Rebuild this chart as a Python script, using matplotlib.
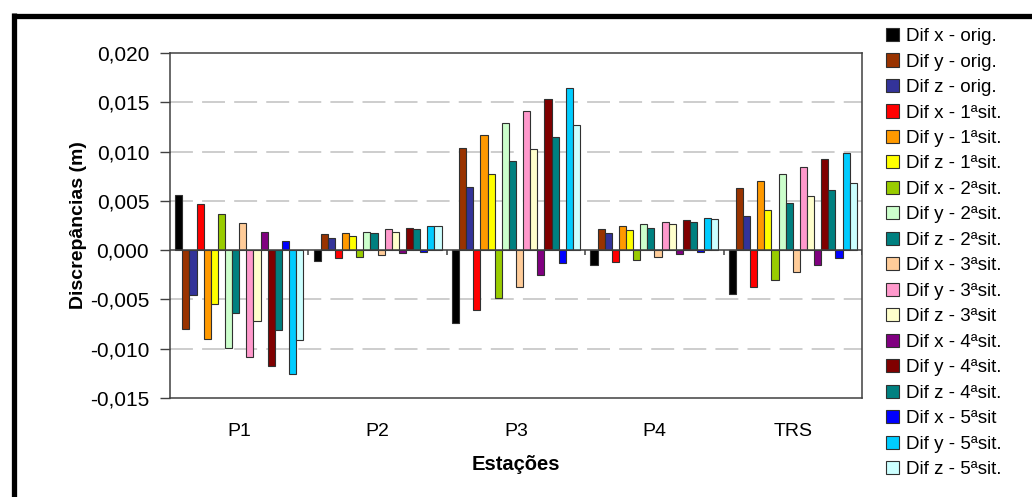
import numpy as np
import matplotlib
matplotlib.use("Agg")
import matplotlib.pyplot as plt
from matplotlib.patches import Patch
from matplotlib.lines import Line2D
from matplotlib.ticker import FuncFormatter

plt.rcParams["font.family"] = ["Liberation Sans", "DejaVu Sans"]

stations = ["P1", "P2", "P3", "P4", "TRS"]

series_labels = [
    "Dif x - orig.", "Dif y - orig.", "Dif z - orig.",
    "Dif x - 1ªsit.", "Dif y - 1ªsit.", "Dif z - 1ªsit.",
    "Dif x - 2ªsit.", "Dif y - 2ªsit.", "Dif z - 2ªsit.",
    "Dif x - 3ªsit.", "Dif y - 3ªsit.", "Dif z - 3ªsit",
    "Dif x - 4ªsit.", "Dif y - 4ªsit.", "Dif z - 4ªsit.",
    "Dif x - 5ªsit", "Dif y - 5ªsit.", "Dif z - 5ªsit.",
]

series_colors = [
    "#000000", "#993300", "#333399",
    "#FF0000", "#FF9900", "#FFFF00",
    "#99CC00", "#CCFFCC", "#008080",
    "#FFCC99", "#FF99CC", "#FFFFCC",
    "#800080", "#800000", "#008080",
    "#0000FF", "#00CCFF", "#CCFFFF",
]

# discrepancies (m) per station, in the order of series_labels
disc_P1 = [0.0056, -0.0080, -0.0045, 0.0047, -0.0090, -0.0055, 0.0037, -0.0099, -0.0064,
           0.0028, -0.0108, -0.0072, 0.0018, -0.0118, -0.0081, 0.0009, -0.0126, -0.0091]
disc_P2 = [-0.0011, 0.0016, 0.0012, -0.0008, 0.0017, 0.0014, -0.0007, 0.0018, 0.0017,
           -0.0005, 0.0021, 0.0018, -0.0003, 0.0022, 0.0021, -0.0002, 0.0024, 0.0024]
disc_P3 = [-0.0074, 0.0104, 0.0064, -0.0061, 0.0117, 0.0077, -0.0049, 0.0129, 0.0090,
           -0.0037, 0.0141, 0.0103, -0.0025, 0.0153, 0.0115, -0.0013, 0.0165, 0.0127]
disc_P4 = [-0.0015, 0.0021, 0.0017, -0.0012, 0.0024, 0.0020, -0.0010, 0.0027, 0.0022,
           -0.0007, 0.0029, 0.0027, -0.0004, 0.0031, 0.0029, -0.0002, 0.0033, 0.0032]
disc_TRS = [-0.0044, 0.0063, 0.0035, -0.0037, 0.0070, 0.0041, -0.0030, 0.0077, 0.0048,
            -0.0022, 0.0084, 0.0055, -0.0015, 0.0092, 0.0061, -0.0008, 0.0099, 0.0068]

y_ticks = [-0.015, -0.010, -0.005, 0.000, 0.005, 0.010, 0.015, 0.020]

table = np.array([disc_P1, disc_P2, disc_P3, disc_P4, disc_TRS])  # stations x series

fig = plt.figure(figsize=(10.32, 4.97), dpi=100)
ax = fig.add_axes([170 / 1032, 1 - 398 / 497, 692 / 1032, 345 / 497])

n = len(series_labels)
width = 0.925 / n
x = np.arange(len(stations))
for i in range(n):
    ax.bar(x + (i - (n - 1) / 2) * width, table[:, i], width=width,
           color=series_colors[i], edgecolor="#303030", linewidth=0.8, zorder=3)

ax.set_xlim(-0.5, len(stations) - 0.5)
ax.set_ylim(-0.015, 0.020)

# dashed horizontal gridlines
for yv in y_ticks:
    if yv not in (0.0, -0.015, 0.020):
        ax.axhline(yv, color="#C0C0C0", linewidth=1.1, dashes=(15, 6), zorder=1)

# category axis drawn at zero with boundary tick marks
ax.axhline(0, color="#404040", linewidth=1.1, zorder=4)
ax.vlines(np.arange(len(stations)) + 0.5, -0.0005, 0, color="#404040", linewidth=1.1, zorder=4)

ax.set_yticks(y_ticks)
ax.yaxis.set_major_formatter(FuncFormatter(lambda v, p: f"{v:.3f}".replace(".", ",")))
ax.tick_params(axis="y", direction="out", length=7, width=1, color="#404040",
               labelsize=15, pad=8)
ax.set_xticks(x)
ax.set_xticklabels(stations)
ax.tick_params(axis="x", length=0, labelsize=14, pad=18)

for s in ax.spines.values():
    s.set_color("#404040")
    s.set_linewidth(1.1)

ax.set_ylabel("Discrepâncias (m)", fontsize=14, fontweight="bold", labelpad=2)
ax.set_xlabel("Estações", fontsize=14.5, fontweight="bold", labelpad=11)

handles = [Patch(facecolor=c, edgecolor="#303030", linewidth=0.8) for c in series_colors]
fig.legend(handles, series_labels, loc="upper left", bbox_to_anchor=(886 / 1032, 1 - 28 / 497),
           frameon=False, fontsize=13.5, handlelength=0.7, handleheight=0.7,
           handletextpad=0.35, labelspacing=0.445, borderaxespad=0, borderpad=0)

# outer black frame (top and left edges)
fig.add_artist(Line2D([12 / 1032, 1.0], [1 - 15.5 / 497, 1 - 15.5 / 497],
                      transform=fig.transFigure, color="black", linewidth=3.8,
                      solid_capstyle="butt"))
fig.add_artist(Line2D([14 / 1032, 14 / 1032], [0.0, 1 - 13 / 497],
                      transform=fig.transFigure, color="black", linewidth=3.8,
                      solid_capstyle="butt"))

fig.savefig("out.png", dpi=100)
